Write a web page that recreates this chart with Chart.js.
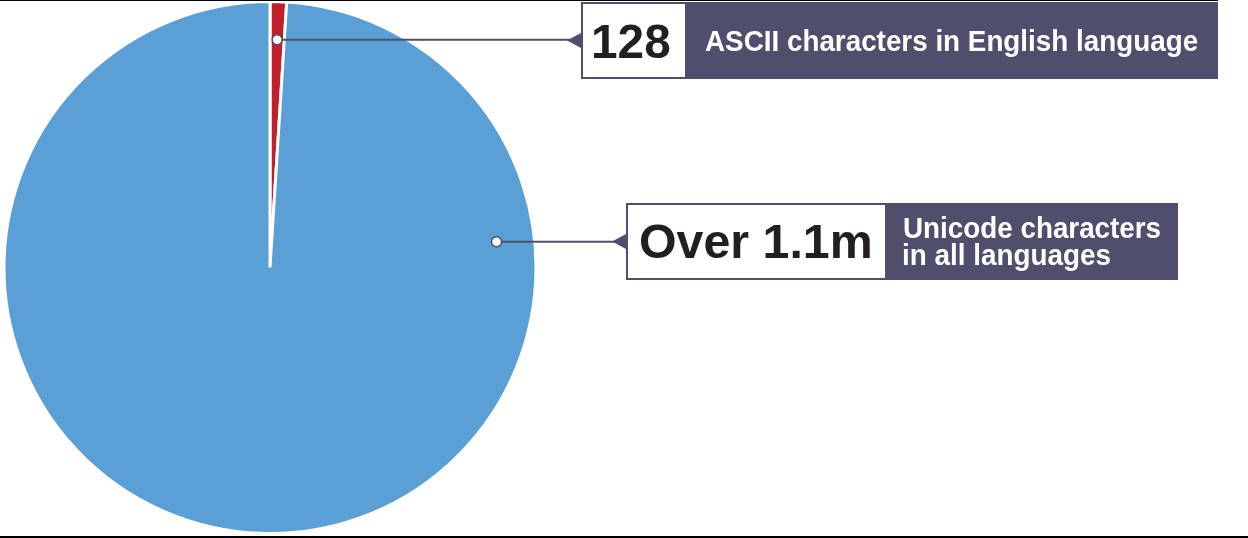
<!DOCTYPE html>
<html>
<head>
<meta charset="utf-8">
<script src="https://cdn.jsdelivr.net/npm/chart.js@4/dist/chart.umd.min.js"></script>
<style>
  html, body { margin: 0; padding: 0; background: #fff; }
  #chart { display: block; }
</style>
</head>
<body>
<canvas id="chart" width="1248" height="538"></canvas>
<script>
// data
const categories = ['ASCII characters in English language', 'Unicode characters in all languages'];
const countLabels = ['128', 'Over 1.1m'];
const labelLines = [['ASCII characters in English language'], ['Unicode characters', 'in all languages']];
// share of the circle as drawn (the picture exaggerates the small slice)
const sliceShares = [1, 99];
const sliceColors = ['#c1202b', '#5a9fd5'];

const DARK = '#4f4e6c';

// callout layout: where the dot sits on its slice and where the box goes
const callouts = [
  { angle: null, radius: 0.857, apexX: 567, box: [581, 2, 637, 77], split: 685,
    num: [594, 58, 76], text: [[705, 51, 493]] },
  { angle: -6.5, radius: 0.857, apexX: 612, box: [626, 203, 552, 77], split: 885,
    num: [640, 258, 230], text: [[904, 238, 256], [904, 265, 206]] }
];

// draws text so that its ink goes from x to x+w
function fitText(ctx, t, x, y, w) {
  const m = ctx.measureText(t);
  const inkW = m.actualBoundingBoxLeft + m.actualBoundingBoxRight;
  const sx = w / inkW;
  ctx.save();
  ctx.translate(x + m.actualBoundingBoxLeft * sx, y);
  ctx.scale(sx, 1);
  ctx.fillText(t, 0, 0);
  ctx.restore();
}

const calloutPlugin = {
  id: 'callouts',
  afterDraw(chart) {
    const ctx = chart.ctx;
    const arcs = chart.getDatasetMeta(0).data;
    ctx.save();
    // frame lines
    ctx.fillStyle = '#000';
    ctx.fillRect(0, 0, 1218, 1);
    ctx.fillRect(0, 536, 1248, 2);

    callouts.forEach((c, i) => {
      const arc = arcs[i];
      const a = c.angle === null ? (arc.startAngle + arc.endAngle) / 2 : c.angle * Math.PI / 180;
      const r = arc.outerRadius * c.radius;
      const dx = arc.x + Math.cos(a) * r;
      const dy = arc.y + Math.sin(a) * r;
      const [bx, by, bw, bh] = c.box;
      const my = by + bh / 2;

      // leader line
      ctx.strokeStyle = DARK;
      ctx.lineWidth = 2;
      ctx.beginPath();
      ctx.moveTo(dx, dy);
      ctx.lineTo(c.apexX + 4, dy);
      ctx.stroke();

      // pointer
      ctx.fillStyle = DARK;
      ctx.beginPath();
      ctx.moveTo(c.apexX, my);
      ctx.lineTo(bx + 1, my - 8);
      ctx.lineTo(bx + 1, my + 8);
      ctx.closePath();
      ctx.fill();

      // box
      ctx.fillStyle = DARK;
      ctx.fillRect(bx, by, bw, bh);
      ctx.fillStyle = '#fff';
      ctx.fillRect(bx + 2, by + 2, c.split - bx - 2, bh - 4);

      // dot
      ctx.beginPath();
      ctx.arc(dx, dy, 5, 0, Math.PI * 2);
      ctx.fillStyle = '#fff';
      ctx.fill();
      ctx.lineWidth = 1.5;
      ctx.strokeStyle = DARK;
      ctx.stroke();

      // number
      ctx.fillStyle = '#231f20';
      ctx.font = 'bold 48px "Liberation Sans", Arial, sans-serif';
      ctx.textBaseline = 'alphabetic';
      fitText(ctx, countLabels[i], c.num[0], c.num[1], c.num[2]);

      // description
      ctx.fillStyle = '#fff';
      ctx.font = 'bold 29px "Liberation Sans", Arial, sans-serif';
      labelLines[i].forEach((line, j) => {
        const p = c.text[j];
        fitText(ctx, line, p[0], p[1], p[2]);
      });
    });
    ctx.restore();
  }
};

new Chart(document.getElementById('chart'), {
  type: 'pie',
  data: {
    labels: categories,
    datasets: [{
      data: sliceShares,
      backgroundColor: sliceColors,
      borderColor: '#fff',
      borderWidth: 3
    }]
  },
  options: {
    responsive: false,
    animation: false,
    devicePixelRatio: 1,
    rotation: 0,
    layout: { padding: { left: 2.5, top: 0, right: 710.5, bottom: 3 } },
    plugins: {
      legend: { display: false },
      tooltip: { enabled: false }
    }
  },
  plugins: [calloutPlugin]
});
</script>
</body>
</html>
